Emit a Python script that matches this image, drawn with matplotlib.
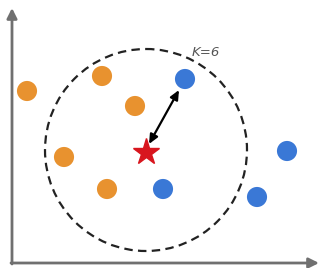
import matplotlib
matplotlib.use("Agg")
import matplotlib.pyplot as plt
from matplotlib.patches import Circle

# data (pixel-like coordinates, y down)
orange_x = [27, 102, 135, 64, 107]
orange_y = [91, 76, 106, 157, 189]
blue_x = [185, 287, 163, 257]
blue_y = [79, 151, 189, 197]
query = (146, 152)
radius = 101
k_label = "K=6"

fig = plt.figure(figsize=(3.22, 2.68), dpi=100)
ax = fig.add_axes([0, 0, 1, 1])
ax.set_xlim(0, 322)
ax.set_ylim(268, 0)
ax.axis("off")

axcol = "#707070"
# axes with arrows
ax.annotate("", xy=(12, 8), xytext=(12, 264),
            arrowprops=dict(arrowstyle="-|>,head_length=0.6,head_width=0.3", color=axcol, lw=2, shrinkA=0, shrinkB=0))
ax.annotate("", xy=(319, 263), xytext=(11, 263),
            arrowprops=dict(arrowstyle="-|>,head_length=0.6,head_width=0.3", color=axcol, lw=2, shrinkA=0, shrinkB=0))

circ = Circle((query[0], 150), radius, fill=False, ls=(0, (3.8, 2.4)), lw=1.6, color="#222222")
ax.add_patch(circ)

ax.scatter(orange_x, orange_y, s=210, color="#E8922F", edgecolors="none", zorder=3)
ax.scatter(blue_x, blue_y, s=210, color="#3A78D6", edgecolors="none", zorder=3)
ax.plot(query[0], query[1], marker="*", ms=20, color="#D8161E", mec="#D8161E", zorder=4)

ax.annotate("", xy=(blue_x[0] - 6, blue_y[0] + 11), xytext=(query[0] + 3, query[1] - 8),
            arrowprops=dict(arrowstyle="<|-|>,head_length=0.55,head_width=0.25", color="black", lw=1.6, shrinkA=0, shrinkB=0), zorder=5)

ax.text(206, 53, k_label, fontsize=9.5, style="italic", color="#555555", ha="center", va="center")

fig.savefig("out.png", dpi=100)
